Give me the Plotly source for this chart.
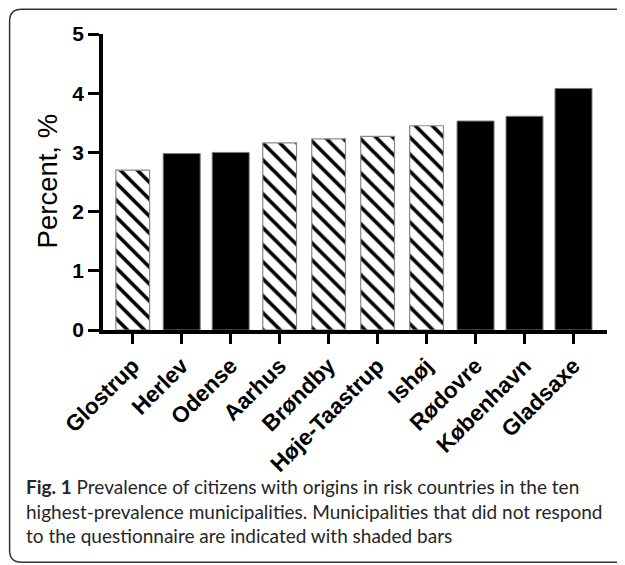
import plotly.graph_objects as go

# ---- data ----
municipalities = ["Glostrup", "Herlev", "Odense", "Aarhus", "Brøndby",
                  "Høje-Taastrup", "Ishøj", "Rødovre", "København", "Gladsaxe"]
prevalence = [2.70, 2.98, 3.00, 3.16, 3.23, 3.27, 3.45, 3.53, 3.61, 4.08]
responded = [False, True, True, False, False, False, False, True, True, True]
y_ticks = [0, 1, 2, 3, 4, 5]
y_title = "Percent, %"
caption = ("<b>Fig. 1</b> Prevalence of citizens with origins in risk countries in the ten<br>"
           "highest-prevalence municipalities. Municipalities that did not respond<br>"
           "to the questionnaire are indicated with shaded bars")

# ---- layout geometry (reference-image pixels) ----
OFF = 8                      # the page body has an 8 px margin
W, H = 625 - OFF, 565 - OFF  # figure size
L, R, T, B = 102.75, 607, 33.5, 330.25


def px(x):
    return (x - L) / (R - L)


def py(y):
    return (B - y) / (B - T)


solid_vals = [v if r else None for v, r in zip(prevalence, responded)]
hatch_vals = [None if r else v for v, r in zip(prevalence, responded)]

fig = go.Figure()
fig.add_trace(go.Bar(
    x=municipalities, y=solid_vals, width=0.755, name="responded",
    marker=dict(color="black", line=dict(color="#7a7a7a", width=1)),
    showlegend=False,
))
fig.add_trace(go.Bar(
    x=municipalities, y=hatch_vals, width=0.69, name="did not respond",
    marker=dict(color="white", line=dict(color="#8a8a8a", width=1.2),
                pattern=dict(shape="\\", fgcolor="#000000", bgcolor="#ffffff",
                             fgopacity=1, fillmode="replace",
                             size=12, solidity=0.3)),
    showlegend=False,
))

x_font = dict(family="Liberation Sans, Arial, sans-serif", size=22.5,
              color="black", weight="bold")
y_font = dict(family="Liberation Sans, Arial, sans-serif", size=21,
              color="black", weight="bold")

fig.update_xaxes(range=[-0.607, 9.684], showline=True, linewidth=3.5,
                 linecolor="black", ticks="outside", ticklen=10, tickwidth=3,
                 tickcolor="black", tickangle=-45, tickfont=x_font,
                 showgrid=False, zeroline=False, fixedrange=True)
fig.update_yaxes(range=[0, 5], tickvals=y_ticks, showline=True, linewidth=3.5,
                 linecolor="black", ticks="outside", ticklen=11, tickwidth=3,
                 tickcolor="black", tickfont=y_font, showgrid=False,
                 zeroline=False, fixedrange=True)

# rounded frame (reference pixel coords)
x0, y0, x1, y1, r = 9.3, 8.8, 636, 563, 12
pts = [
    ("M", [(x0 + r, y0)]), ("L", [(x1 - r, y0)]), ("Q", [(x1, y0), (x1, y0 + r)]),
    ("L", [(x1, y1 - r)]), ("Q", [(x1, y1), (x1 - r, y1)]),
    ("L", [(x0 + r, y1)]), ("Q", [(x0, y1), (x0, y1 - r)]),
    ("L", [(x0, y0 + r)]), ("Q", [(x0, y0), (x0 + r, y0)]),
]
path = " ".join(cmd + " " + " ".join(f"{px(a):.5f},{py(b):.5f}" for a, b in p)
                for cmd, p in pts) + " Z"

annotations = [
    dict(text=y_title, textangle=-90, xref="paper", yref="paper",
         x=px(47), y=py(181), xanchor="center", yanchor="middle", showarrow=False,
         font=dict(family="Liberation Sans, Arial, sans-serif", size=27.5, color="black")),
    dict(text=caption, xref="paper", yref="paper", x=px(24), y=py(474),
         xanchor="left", yanchor="top", align="left", showarrow=False,
         font=dict(family="Lato, sans-serif", size=19, color="#262626")),
]

fig.update_layout(
    width=W, height=H,
    margin=dict(l=L - OFF, r=625 - R, t=T - OFF, b=565 - B, pad=0),
    paper_bgcolor="white", plot_bgcolor="white",
    barmode="overlay",
    shapes=[dict(type="path", path=path, xref="paper", yref="paper",
                 line=dict(color="#333333", width=1.5), layer="below")],
    annotations=annotations,
)

fig.write_html("out.html")
